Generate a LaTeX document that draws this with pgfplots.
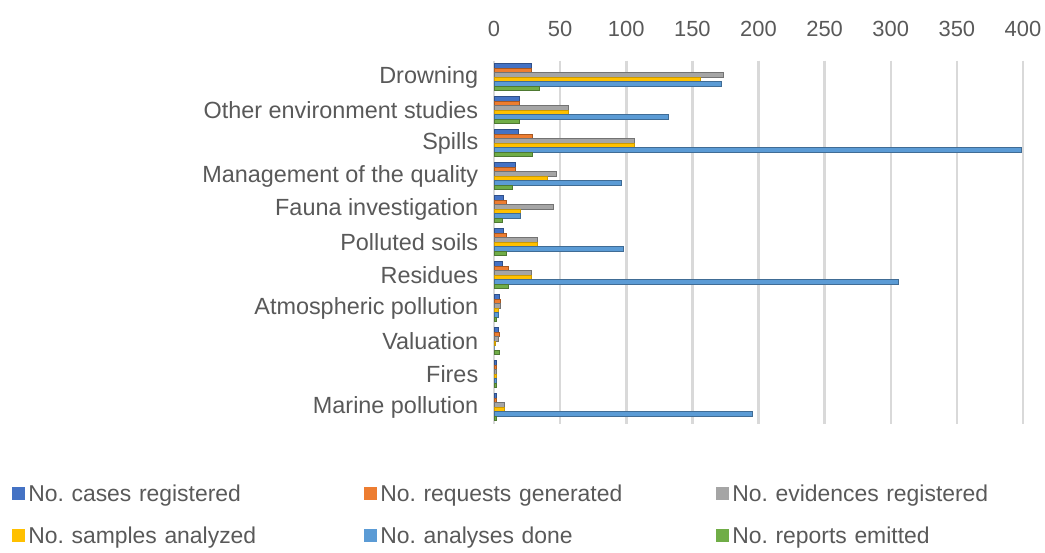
\documentclass[border=0pt]{standalone}
\usepackage{fontspec}
\setmainfont{Liberation Sans}
\usepackage{pgfplots}
\pgfplotsset{compat=1.18}
\usepackage{pgfplotstable}

\definecolor{cCases}{HTML}{4472C4}
\definecolor{cReq}{HTML}{ED7D31}
\definecolor{cEvid}{HTML}{A5A5A5}
\definecolor{cSamp}{HTML}{FFC000}
\definecolor{cAnal}{HTML}{5B9BD5}
\definecolor{cRep}{HTML}{70AD47}
\definecolor{txt}{HTML}{595959}
\definecolor{grid}{HTML}{D9D9D9}

% columns: category index, cases, requests, evidences, samples, analyses, reports
\pgfplotstableread{
idx cases req evid samp anal rep
0   28 28 173 156 172 34
1   19 19  56  56 132 19
2   18 29 106 106 399 29
3   16 16  47  40  96 14
4    7  9  45  20  20  6
5    7  9  33  33  98  9
6    6 11  28  28 306 11
7    4  5   5   3   3  2
8    3  4   3   1   0  4
9    2  2   2   2   2  2
10   2  2   8   8 195  2
}\datatable

\begin{document}
\frenchspacing
\begin{tikzpicture}
\path[use as bounding box] (0,0) rectangle (1045bp,553bp);
\begin{axis}[
    at={(494bp,129.5bp)}, anchor=south west,
    scale only axis,
    width=529bp, height=363bp,
    xbar=0pt,
    bar width=4.5bp,
    y dir=reverse,
    xmin=0, xmax=400,
    ymin=-0.5, ymax=10.5,
    xtick={0,50,...,400},
    xticklabel pos=upper,
    ytick={0,...,10},
    yticklabels={Drowning,Other environment studies,Spills,Management of the quality,Fauna investigation,Polluted soils,Residues,Atmospheric pollution,Valuation,Fires,Marine pollution},
    axis line style={draw=none},
    tick style={draw=none},
    xmajorgrids=true,
    major grid style={draw=grid, line width=2.5bp},
    /pgf/number format/assume math mode=true,
    xticklabel style={font=\fontsize{22}{26}\selectfont, text=txt, yshift=20bp},
    yticklabel style={font=\fontsize{23.5}{28}\selectfont, text=txt, xshift=-8bp},
    legend columns=3,
    legend style={
        at={(-0.911,-0.168)}, anchor=north west,
        draw=none, fill=none,
        font=\fontsize{23}{27}\selectfont, text=txt,
        inner sep=0pt,
        nodes={inner sep=0pt, anchor=west},
        /tikz/every even column/.append style={text width=333bp},
        /tikz/row sep=24bp,
        /tikz/column sep=3bp,
    },
    legend image code/.code={\fill[#1,draw=none] (0bp,-6.5bp) rectangle (13bp,6.5bp);},
]
\addplot[fill=cCases, draw=cCases!70!black, line width=0.5bp, bar shift=11.25bp] table[x=cases, y=idx] {\datatable};
\addlegendentry{No. cases registered}
\addplot[fill=cReq, draw=cReq!70!black, line width=0.5bp, bar shift=6.75bp] table[x=req, y=idx] {\datatable};
\addlegendentry{No. requests generated}
\addplot[fill=cEvid, draw=cEvid!70!black, line width=0.5bp, bar shift=2.25bp] table[x=evid, y=idx] {\datatable};
\addlegendentry{No. evidences registered}
\addplot[fill=cSamp, draw=cSamp!80!black, line width=0.5bp, bar shift=-2.25bp] table[x=samp, y=idx] {\datatable};
\addlegendentry{No. samples analyzed}
\addplot[fill=cAnal, draw=cAnal!70!black, line width=0.5bp, bar shift=-6.75bp] table[x=anal, y=idx] {\datatable};
\addlegendentry{No. analyses done}
\addplot[fill=cRep, draw=cRep!70!black, line width=0.5bp, bar shift=-11.25bp] table[x=rep, y=idx] {\datatable};
\addlegendentry{No. reports emitted}
\end{axis}
\end{tikzpicture}
\end{document}
